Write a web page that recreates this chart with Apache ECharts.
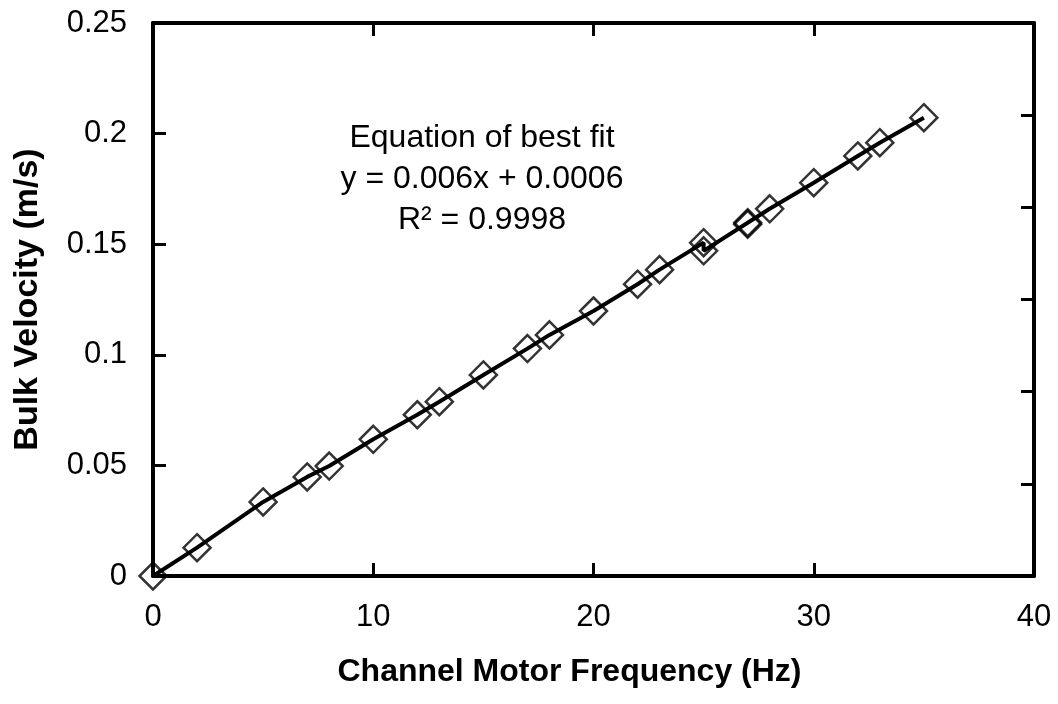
<!DOCTYPE html>
<html>
<head>
<meta charset="utf-8">
<script src="https://cdn.jsdelivr.net/npm/echarts@6/dist/echarts.min.js"></script>
<style>
  html, body { margin: 0; padding: 0; background: #fff; }
  #chart { width: 1058px; height: 704px; }
</style>
</head>
<body>
<div id="chart"></div>
<script>
const freqHz = [0, 2, 5, 7, 8, 10, 12, 13, 15, 17, 18, 20, 22, 23, 25, 25, 27, 27, 28, 30, 32, 33, 35]
const velocity = [0, 0.0128, 0.0335, 0.0448, 0.0497, 0.0618, 0.0729, 0.0788, 0.0909, 0.1028, 0.109, 0.1198,
  0.1319, 0.1385, 0.1507, 0.147, 0.1597, 0.159, 0.166, 0.1778, 0.1899, 0.1959, 0.2072]
const fitText = ['Equation of best fit', 'y = 0.006x + 0.0006', 'R² = 0.9998']

const FONT = '"Liberation Sans", Arial, sans-serif'
const pts = freqHz.map((x, i) => [x, velocity[i]])

const myChart = echarts.init(document.getElementById('chart'))

// fresh objects per axis
function frame () {
  return { show: true, onZero: false, lineStyle: { color: '#000', width: 4 } }
}
function tickIn () {
  return { show: true, inside: true, length: 13, lineStyle: { color: '#000', width: 3 } }
}

myChart.setOption({
  backgroundColor: '#fff',
  animation: false,
  grid: { left: 153, right: 24, top: 23, bottom: 128 },
  xAxis: [
    {
      type: 'value', position: 'bottom', min: 0, max: 40, interval: 10,
      name: 'Channel Motor Frequency (Hz)',
      nameLocation: 'middle', nameGap: 80,
      nameTextStyle: { fontFamily: FONT, fontSize: 32, fontWeight: 'bold', color: '#000', padding: [0, 48, 0, 0] },
      axisLine: frame(), axisTick: tickIn(), splitLine: { show: false },
      axisLabel: { fontFamily: FONT, fontSize: 31, color: '#000', margin: 26 }
    },
    {
      type: 'value', position: 'top', min: 0, max: 40, interval: 10,
      axisLine: frame(), axisTick: tickIn(), splitLine: { show: false }, axisLabel: { show: false }
    }
  ],
  yAxis: [
    {
      type: 'value', position: 'left', min: 0, max: 0.25, interval: 0.05,
      name: 'Bulk Velocity (m/s)',
      nameLocation: 'middle', nameGap: 108,
      nameTextStyle: { fontFamily: FONT, fontSize: 34, fontWeight: 'bold', color: '#000' },
      axisLine: frame(), axisTick: tickIn(), splitLine: { show: false },
      axisLabel: { fontFamily: FONT, fontSize: 31, color: '#000', margin: 26 }
    },
    {
      // right frame has its own 6 divisions
      type: 'value', position: 'right', min: 0, max: 6, interval: 1,
      axisLine: frame(), axisTick: tickIn(), splitLine: { show: false }, axisLabel: { show: false }
    }
  ],
  series: [
    {
      type: 'scatter',
      data: pts,
      symbol: 'diamond',
      symbolSize: 27,
      clip: false,
      itemStyle: { color: 'rgba(255,255,255,0)', borderColor: '#000', borderWidth: 2.5 },
      z: 2
    },
    {
      type: 'line',
      data: pts,
      showSymbol: false,
      clip: false,
      lineStyle: { color: '#000', width: 4 },
      z: 3
    }
  ],
  graphic: [
    {
      type: 'text',
      x: 482, y: 118,
      style: {
        text: fitText.join('\n'),
        textAlign: 'center',
        textVerticalAlign: 'top',
        font: '32px ' + FONT,
        lineHeight: 41,
        fill: '#000'
      }
    }
  ]
})
</script>
</body>
</html>
